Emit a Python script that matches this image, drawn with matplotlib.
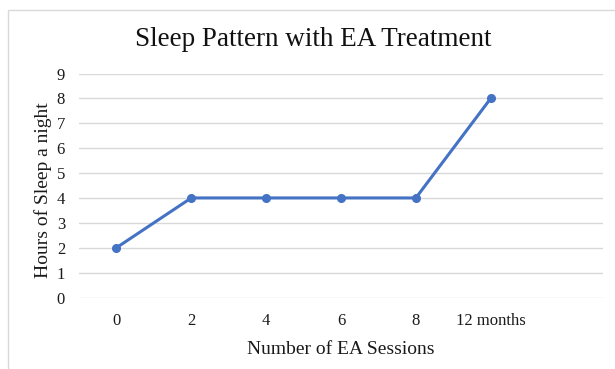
import matplotlib
matplotlib.use('Agg')
import matplotlib.pyplot as plt
from matplotlib.patches import Rectangle

categories = ['0', '2', '4', '6', '8', '12 months', '']
hours = [2, 4, 4, 4, 4, 8]
yticks = list(range(0, 10))

plt.rcParams['font.family'] = ['Liberation Serif', 'DejaVu Serif']

fig = plt.figure(figsize=(6.15, 3.69), dpi=100)
fig.patch.set_facecolor('white')

# chart border like Excel's chart area
fig.patches.append(Rectangle((8 / 615, -0.1), 1.2, 1 - 10 / 369 + 0.1,
                             transform=fig.transFigure, fill=False,
                             edgecolor='#D9D9D9', linewidth=1))

ax = fig.add_axes([79 / 615, (369 - 297.5) / 369, 524 / 615, 224 / 369])

x = list(range(len(hours)))
ax.plot(x, hours, color='#4472C4', linewidth=2.2, marker='o',
        markersize=5.5, zorder=3)

ax.set_xlim(-0.5, len(categories) - 0.5)
ax.set_ylim(0, 9)
ax.set_yticks(yticks)
ax.set_xticks(range(len(categories)))
ax.set_xticklabels(categories)
ax.grid(axis='y', color='#D9D9D9', linewidth=1)
ax.set_axisbelow(True)
for s in ax.spines.values():
    s.set_visible(False)
ax.tick_params(length=0, labelsize=12, colors='#1a1a1a')
ax.tick_params(axis='x', pad=11)
ax.tick_params(axis='y', pad=10)

ax.set_xlabel('Number of EA Sessions', fontsize=14, color='#1a1a1a')
ax.xaxis.set_label_coords(0.5, -0.195)
ax.set_ylabel('Hours of Sleep a night', fontsize=14, color='#1a1a1a')
ax.yaxis.set_label_coords(-0.052, 0.48)

fig.text(313 / 615, 1 - 39 / 369, 'Sleep Pattern with EA Treatment',
         ha='center', va='center', fontsize=19.5, color='#111111')

fig.savefig('out.png', dpi=100)
